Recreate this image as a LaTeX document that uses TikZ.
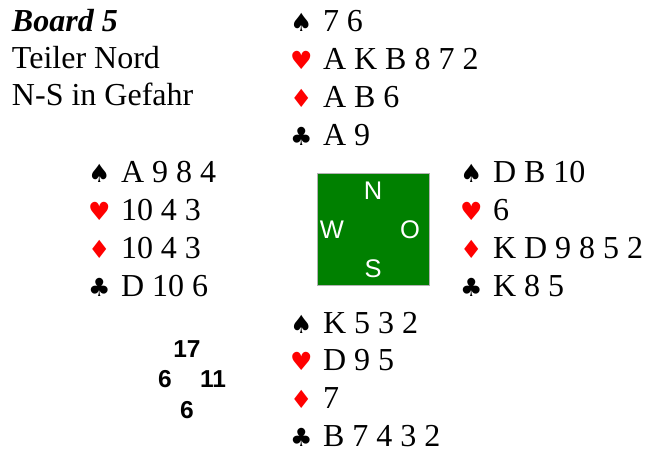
\documentclass[tikz,border=0pt]{standalone}
\usepackage{fontspec}
\setmainfont{Liberation Serif}
\newfontfamily\suitfont{DejaVu Sans}
\newfontfamily\hcpfont{Liberation Sans}
\usepackage{xcolor}
\definecolor{feltgreen}{HTML}{008000}
\definecolor{suitred}{HTML}{FF0000}
\usetikzlibrary{positioning}

\newcommand{\suitbox}[2]{\makebox[33pt][l]{\suitfont\fontsize{25}{25}\selectfont\color{#1}#2}}
\newcommand{\spd}{\suitbox{black}{♠}}
\newcommand{\hrt}{\suitbox{suitred}{♥}}
\newcommand{\dia}{\suitbox{suitred}{♦}}
\newcommand{\clb}{\suitbox{black}{♣}}

\begin{document}
\begin{tikzpicture}[x=1pt,y=-1pt,inner sep=0pt,outer sep=0pt]
              \tikzstyle{hand}=[anchor=base west,font=\fontsize{32}{36}\selectfont]
              \tikzstyle{compass}=[anchor=base,text=white,font=\hcpfont\fontsize{25.5}{25.5}\selectfont]
              \tikzstyle{hcp}=[anchor=base,font=\hcpfont\bfseries\fontsize{24.5}{24.5}\selectfont]

              \useasboundingbox (0,0) rectangle (645,454);

              % board info
              \node[hand]                                     (board)  at (12,32) {\textbf{\textit{Board 5}}};
              \node[below=37pt of board.base west,hand]       (dealer)            {Teiler Nord};
              \node[below=37pt of dealer.base west,hand]      (vul)               {N-S in Gefahr};

              % north
              \node[hand]                                     (Ns) at (290,32) {\spd 7 6};
              \node[below=37.8pt of Ns.base west,hand]        (Nh)             {\hrt A K B 8 7 2};
              \node[below=37.8pt of Nh.base west,hand]        (Nd)             {\dia A B 6};
              \node[below=37.8pt of Nd.base west,hand]        (Nc)             {\clb A 9};

              % west
              \node[hand]                                     (Ws) at (88,183) {\spd A 9 8 4};
              \node[below=37.8pt of Ws.base west,hand]        (Wh)             {\hrt 10 4 3};
              \node[below=37.8pt of Wh.base west,hand]        (Wd)             {\dia 10 4 3};
              \node[below=37.8pt of Wd.base west,hand]        (Wc)             {\clb D 10 6};

              % east
              \node[hand]                                     (Es) at (460,183) {\spd D B 10};
              \node[below=37.8pt of Es.base west,hand]        (Eh)              {\hrt 6};
              \node[below=37.8pt of Eh.base west,hand]        (Ed)              {\dia K D 9 8 5 2};
              \node[below=37.8pt of Ed.base west,hand]        (Ec)              {\clb K 8 5};

              % south
              \node[hand]                                     (Ss) at (290,333) {\spd K 5 3 2};
              \node[below=37.8pt of Ss.base west,hand]        (Sh)              {\hrt D 9 5};
              \node[below=37.8pt of Sh.base west,hand]        (Sd)              {\dia 7};
              \node[below=37.8pt of Sd.base west,hand]        (Sc)              {\clb B 7 4 3 2};

              % table
              \node[draw=gray!60,fill=feltgreen,minimum size=112pt,line width=0.8pt] (table) at (373,229.5) {};
              \node[compass] (N) at ([yshift=29.5pt]table.center)              {N};
              \node[compass] (W) at ([xshift=-41pt,yshift=-9.5pt]table.center) {W};
              \node[compass] (O) at ([xshift=37pt,yshift=-9.5pt]table.center)  {O};
              \node[compass] (S) at ([yshift=-48.5pt]table.center)             {S};

              % points
              \node[hcp] (pN) at (187,357) {17};
              \node[hcp] (pW) at (165,387) {6};
              \node[hcp] (pE) at (213,387) {11};
              \node[hcp] (pS) at (187,418) {6};

       \end{tikzpicture}
\end{document}
